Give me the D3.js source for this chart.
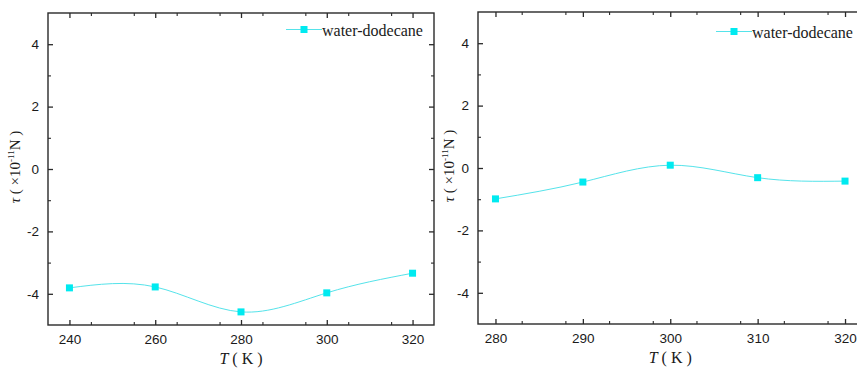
<!DOCTYPE html>
<html>
<head>
<meta charset="utf-8">
<script src="https://cdn.jsdelivr.net/npm/d3@7"></script>
<style>
  body { margin: 0; background: #fff; }
  svg { display: block; }
</style>
</head>
<body>
<div id="chart"></div>
<script>
// data
const seriesName = "water-dodecane";
const leftT = [240, 260, 280, 300, 320];
const leftTau = [-3.81, -3.78, -4.58, -3.97, -3.34];
const rightT = [280, 290, 300, 310, 320];
const rightTau = [-0.99, -0.45, 0.09, -0.31, -0.42];
const yTicks = [-4, -2, 0, 2, 4];
const leftXTicks = [240, 260, 280, 300, 320];
const rightXTicks = [280, 290, 300, 310, 320];

const width = 857, height = 369;
const axisColor = "#2a2a2a";
const lineColor = "#55e3ea";
const markerColor = "#00eaf0";

const svg = d3.select("#chart")
    .append("svg")
    .attr("width", width)
    .attr("height", height);

function drawPanel(opt) {
    const x = d3.scaleLinear().domain(opt.xDomain).range(opt.xRange);
    const y = d3.scaleLinear().domain([-5, 5]).range(opt.yRange);
    const g = svg.append("g");
    const [x0, x1] = opt.xRange;
    const [y1, y0] = opt.yRange; // bottom, top

    const minorX = d3.range(opt.xDomain[0], opt.xDomain[1] + 0.001, opt.xMinorStep)
        .filter(v => !opt.xTicks.includes(v) && v > opt.xDomain[0] && v < opt.xDomain[1]);
    const minorY = [-3, -1, 1, 3];

    // major + minor ticks on all four sides, pointing inward
    const sides = [
        { axis: d3.axisBottom, pos: `translate(0,${y1})`, scale: x, major: opt.xTicks, minor: minorX, labels: true },
        { axis: d3.axisTop, pos: `translate(0,${y0})`, scale: x, major: opt.xTicks, minor: minorX, labels: false },
        { axis: d3.axisLeft, pos: `translate(${x0},0)`, scale: y, major: yTicks, minor: minorY, labels: true },
        { axis: d3.axisRight, pos: `translate(${x1},0)`, scale: y, major: yTicks, minor: minorY, labels: false }
    ];
    sides.forEach(s => {
        const maj = g.append("g").attr("transform", s.pos)
            .call(s.axis(s.scale).tickValues(s.major).tickSizeInner(-5).tickSizeOuter(0)
                .tickPadding(9).tickFormat(s.labels ? (d => String(d)) : ""));
        maj.select(".domain").remove();
        maj.selectAll("line").attr("stroke", axisColor).attr("stroke-width", 1.3);
        maj.selectAll("text")
            .attr("font-family", "'Liberation Sans', Arial, sans-serif")
            .attr("font-size", 13.5)
            .attr("fill", "#1a1a1a");
        const mn = g.append("g").attr("transform", s.pos)
            .call(s.axis(s.scale).tickValues(s.minor).tickSizeInner(-3).tickSizeOuter(0).tickFormat(""));
        mn.select(".domain").remove();
        mn.selectAll("line").attr("stroke", axisColor).attr("stroke-width", 1.1);
    });

    // frame
    g.append("rect")
        .attr("x", x0).attr("y", y0)
        .attr("width", x1 - x0).attr("height", y1 - y0)
        .attr("fill", "none")
        .attr("stroke", axisColor)
        .attr("stroke-width", 1.4);

    // smooth line
    const pts = opt.t.map((t, i) => [t, opt.tau[i]]);
    const line = d3.line()
        .x(d => x(d[0]))
        .y(d => y(d[1]))
        .curve(d3.curveNatural);
    g.append("path")
        .attr("d", line(pts))
        .attr("fill", "none")
        .attr("stroke", lineColor)
        .attr("stroke-width", 1);

    const ms = 7;
    g.selectAll("rect.pt")
        .data(pts)
        .enter()
        .append("rect")
        .attr("class", "pt")
        .attr("x", d => x(d[0]) - ms / 2)
        .attr("y", d => y(d[1]) - ms / 2)
        .attr("width", ms)
        .attr("height", ms)
        .attr("fill", markerColor);

    // legend
    const lg = g.append("g").attr("transform", `translate(${opt.legend[0]},${opt.legend[1]})`);
    lg.append("line")
        .attr("x1", 0).attr("x2", 36)
        .attr("y1", 0).attr("y2", 0)
        .attr("stroke", lineColor).attr("stroke-width", 1);
    lg.append("rect")
        .attr("x", 18 - ms / 2).attr("y", -ms / 2)
        .attr("width", ms).attr("height", ms)
        .attr("fill", markerColor);
    lg.append("text")
        .attr("x", 36).attr("y", 6)
        .attr("font-family", "'Liberation Serif', 'Times New Roman', serif")
        .attr("font-size", 16)
        .attr("fill", "#1a1a1a")
        .text(seriesName);

    // x label
    const xl = g.append("text")
        .attr("x", (x(opt.xTicks[0]) + x(opt.xTicks[opt.xTicks.length - 1])) / 2)
        .attr("y", y1 + 39)
        .attr("text-anchor", "middle")
        .attr("font-family", "'Liberation Serif', 'Times New Roman', serif")
        .attr("font-size", 16)
        .attr("fill", "#1a1a1a");
    xl.append("tspan").attr("font-style", "italic").text("T");
    xl.append("tspan").text(" ( K )");

    // y label
    const yl = g.append("text")
        .attr("transform", `translate(${opt.yLabelX},${(y0 + y1) / 2 - 2}) rotate(-90)`)
        .attr("text-anchor", "middle")
        .attr("font-family", "'Liberation Serif', 'Times New Roman', serif")
        .attr("font-size", 15)
        .attr("fill", "#1a1a1a");
    yl.append("tspan").attr("font-style", "italic").text("τ");
    yl.append("tspan").text(" ( ×10");
    yl.append("tspan").attr("font-size", 9).attr("dy", -6).text("-11");
    yl.append("tspan").attr("dy", 6).text("N )");
}

drawPanel({
    t: leftT, tau: leftTau,
    xDomain: [235, 325], xRange: [48, 434], yRange: [325, 13],
    xTicks: leftXTicks, xMinorStep: 10,
    legend: [286, 29.5], yLabelX: 20
});

drawPanel({
    t: rightT, tau: rightTau,
    xDomain: [278, 322], xRange: [478, 862.5], yRange: [324, 12],
    xTicks: rightXTicks, xMinorStep: 5,
    legend: [716, 31.5], yLabelX: 454
});
</script>
</body>
</html>
